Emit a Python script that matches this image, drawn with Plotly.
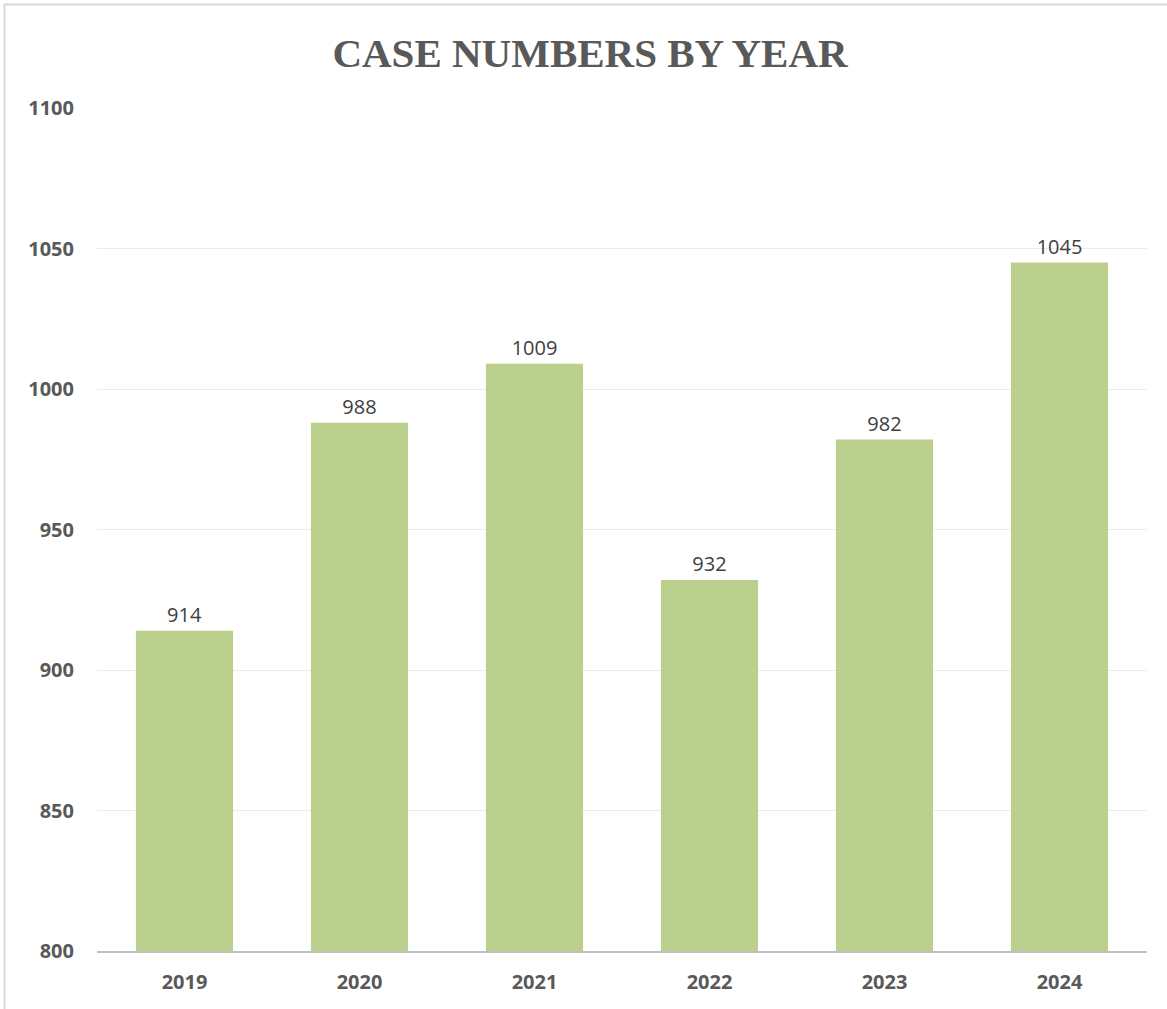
import plotly.graph_objects as go

years = ["2019", "2020", "2021", "2022", "2023", "2024"]
cases = [914, 988, 1009, 932, 982, 1045]
y_ticks = [800, 850, 900, 950, 1000, 1050, 1100]

W, H = 1167, 1009
L, R, T, B = 97, 20, 108, 58
pw, ph = W - L - R, H - T - B

fig = go.Figure(go.Bar(
    x=years, y=cases,
    marker=dict(color="#bbd08c", line=dict(width=0)),
    text=[str(v) for v in cases], textposition="outside",
    textfont=dict(family="Open Sans, Noto Sans, sans-serif", size=20, color="#404040"),
    cliponaxis=False,
))

fig.update_layout(
    width=W, height=H,
    margin=dict(l=L, r=R, t=T, b=B),
    paper_bgcolor="white", plot_bgcolor="white",
    bargap=0.445,
    showlegend=False,
    title=dict(text="<b>CASE NUMBERS BY YEAR</b>", x=590 / W, xanchor="center",
               y=1 - 53 / H, yanchor="middle",
               font=dict(family="Liberation Serif, serif", size=41, color="#595959")),
    xaxis=dict(showgrid=False, showline=True, linecolor="#bfbfbf", linewidth=2,
               ticks="", ticklabelstandoff=12,
               tickfont=dict(family="Open Sans, Noto Sans, sans-serif", size=20, color="#595959", weight="bold")),
    yaxis=dict(range=[800, 1100], tickvals=y_ticks, showgrid=True, gridcolor="#ebebeb", gridwidth=1,
               zeroline=False, showline=False, ticks="", ticklabelstandoff=22,
               tickfont=dict(family="Open Sans, Noto Sans, sans-serif", size=20, color="#595959", weight="bold")),
)

fig.add_shape(type="rect", xref="paper", yref="paper",
              x0=(4.5 - L) / pw, x1=(W + 10 - L) / pw,
              y0=-(B + 20) / ph, y1=(H - B - 4.5) / ph,
              line=dict(color="#d9d9d9", width=2), fillcolor="rgba(0,0,0,0)", layer="below")

fig.write_html("out.html", config={"displayModeBar": False},
               post_script="document.body.style.margin='0';")
